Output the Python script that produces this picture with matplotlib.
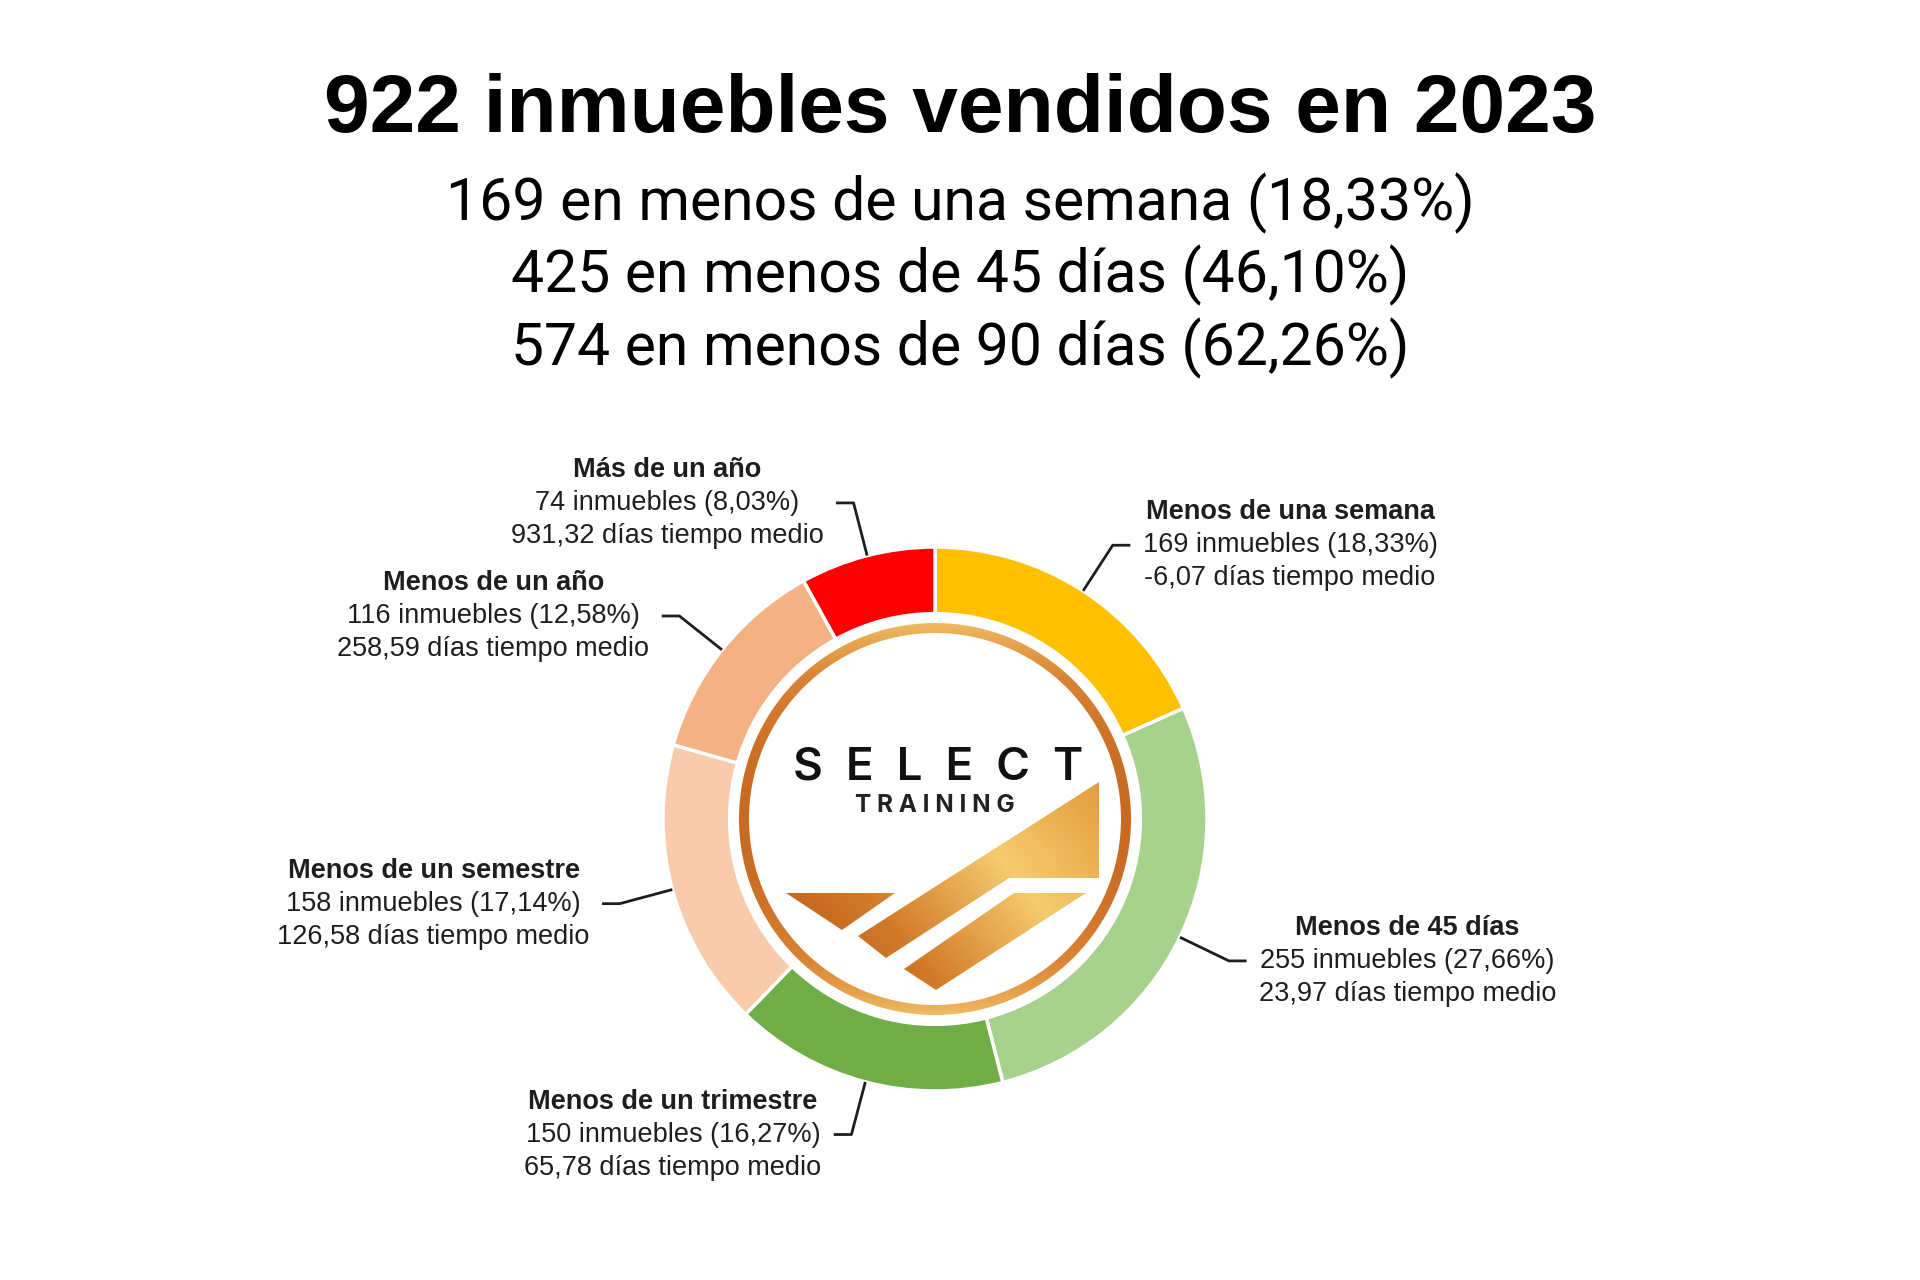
import numpy as np
import matplotlib
matplotlib.use('Agg')
import matplotlib.pyplot as plt
from matplotlib.patches import Polygon, Wedge
from matplotlib.colors import LinearSegmentedColormap


TITLE = '922 inmuebles vendidos en 2023'
SUBTITLE = ['169 en menos de una semana (18,33%)',
            '425 en menos de 45 días (46,10%)',
            '574 en menos de 90 días (62,26%)']

categories = ['Menos de una semana', 'Menos de 45 días', 'Menos de un trimestre',
              'Menos de un semestre', 'Menos de un año', 'Más de un año']
counts = [169, 255, 150, 158, 116, 74]
avg_days = ['-6,07', '23,97', '65,78', '126,58', '258,59', '931,32']
colors = ['#FFC000', '#A9D18E', '#70AD47', '#F8CBAD', '#F4B183', '#FF0000']

W, H = 1920, 1280
CX, CY, R_PX = 935, 819, 272   # donut centre and outer radius in pixels


def px(x, y):
    # pixel position -> data units of the pie axes
    return (x - CX) / R_PX, (CY - y) / R_PX


fig = plt.figure(figsize=(W / 100, H / 100), dpi=100)
ax = fig.add_axes([0, 0, 1, 1])

wedges, _ = ax.pie(counts, colors=colors, startangle=90, counterclock=False, radius=1,
                   wedgeprops=dict(width=0.245, edgecolor='white', linewidth=2.5))

# logo in the hole: copper ring, lighter at top and bottom
ring = Wedge((0, 0), 196 / R_PX, 0, 360, width=10 / R_PX, facecolor='none', edgecolor='none')
ax.add_patch(ring)
rr = 200 / R_PX
gy = np.linspace(-1, 1, 300)[:, None] * np.ones((1, 300))
ring_cmap = LinearSegmentedColormap.from_list('ring', ['#C96A22', '#D98434', '#F1BE66'])
im = ax.imshow(np.abs(gy) ** 2, extent=(-rr, rr, -rr, rr), origin='lower', cmap=ring_cmap,
               aspect='auto', zorder=3)
im.set_clip_path(ring)

gold = LinearSegmentedColormap.from_list('gold', ['#B2551A', '#D27A28', '#F6CB6E', '#E39A3A'])
shapes = [
    [(858, 936), (1099, 782), (1099, 878), (1009, 878), (886, 958)],
    [(904, 969), (1014, 893), (1086, 893), (936, 990)],
    [(786, 893), (895, 893), (842, 930)],
]
x0, y0 = px(780, 995)
x1, y1 = px(1105, 780)
gx, gyy = np.meshgrid(np.linspace(0, 1, 200), np.linspace(0, 1, 200))
grad = 0.65 * gx + 0.35 * gyy
for pts in shapes:
    poly = Polygon([px(*p) for p in pts], closed=True, facecolor='none', edgecolor='none')
    ax.add_patch(poly)
    im = ax.imshow(grad, extent=(x0, x1, y0, y1), origin='lower', cmap=gold, aspect='auto', zorder=4)
    im.set_clip_path(poly)

ax.text(*px(938, 768), 'S  E  L  E  C  T', ha='center', va='center', fontsize=33,
        family='Inter', weight='semibold', color='#111111', zorder=5)
ax.text(*px(935, 806), 'T R A I N I N G', ha='center', va='center', fontsize=17.5,
        family='Inter', weight='bold', color='#222222', zorder=5)

# labels with elbow leader lines
label_font = dict(family='Liberation Sans', fontsize=19.5, color='#1E1E1E')
renderer = fig.canvas.get_renderer()


def text_width(s, weight):
    t = ax.text(0, 0, s, weight=weight, **label_font)
    w = t.get_window_extent(renderer).width
    t.remove()
    return w / R_PX


total = sum(counts)
line_h = 33 / R_PX
for w, cat, n, days in zip(wedges, categories, counts, avg_days):
    ang = np.deg2rad((w.theta1 + w.theta2) / 2)
    c, s = np.cos(ang), np.sin(ang)
    side = 1 if c >= 0 else -1
    ex, ey = 1.2 * c, 1.2 * s
    end_x = ex + side * 0.065
    ax.plot([c, ex, end_x], [s, ey, ey], color='#1E1E1E', lw=2, solid_capstyle='butt', zorder=2)
    pct = f'{n / total * 100:.2f}'.replace('.', ',')
    lines = [(cat, 'bold'), (f'{n} inmuebles ({pct}%)', 'normal'),
             (f'{days} días tiempo medio', 'normal')]
    bw = max(text_width(l, wt) for l, wt in lines)
    tx = end_x + side * (0.045 + bw / 2)
    for i, (l, wt) in enumerate(lines):
        ax.text(tx, ey + (1 - i) * line_h, l, ha='center', va='center', weight=wt, **label_font)

ax.set_xlim(-CX / R_PX, (W - CX) / R_PX)
ax.set_ylim(-(H - CY) / R_PX, CY / R_PX)
ax.set_aspect('equal')
ax.axis('off')

fig.text(0.5, 1 - 132 / H, TITLE, ha='center', va='baseline', fontsize=59,
         weight='bold', family='Liberation Sans', color='black')
for i, line in enumerate(SUBTITLE):
    fig.text(0.5, 1 - (220 + 72.5 * i) / H, line, ha='center', va='baseline',
             fontsize=42.4, family='Roboto', color='black')

fig.savefig('out.png', dpi=100, facecolor='white')
